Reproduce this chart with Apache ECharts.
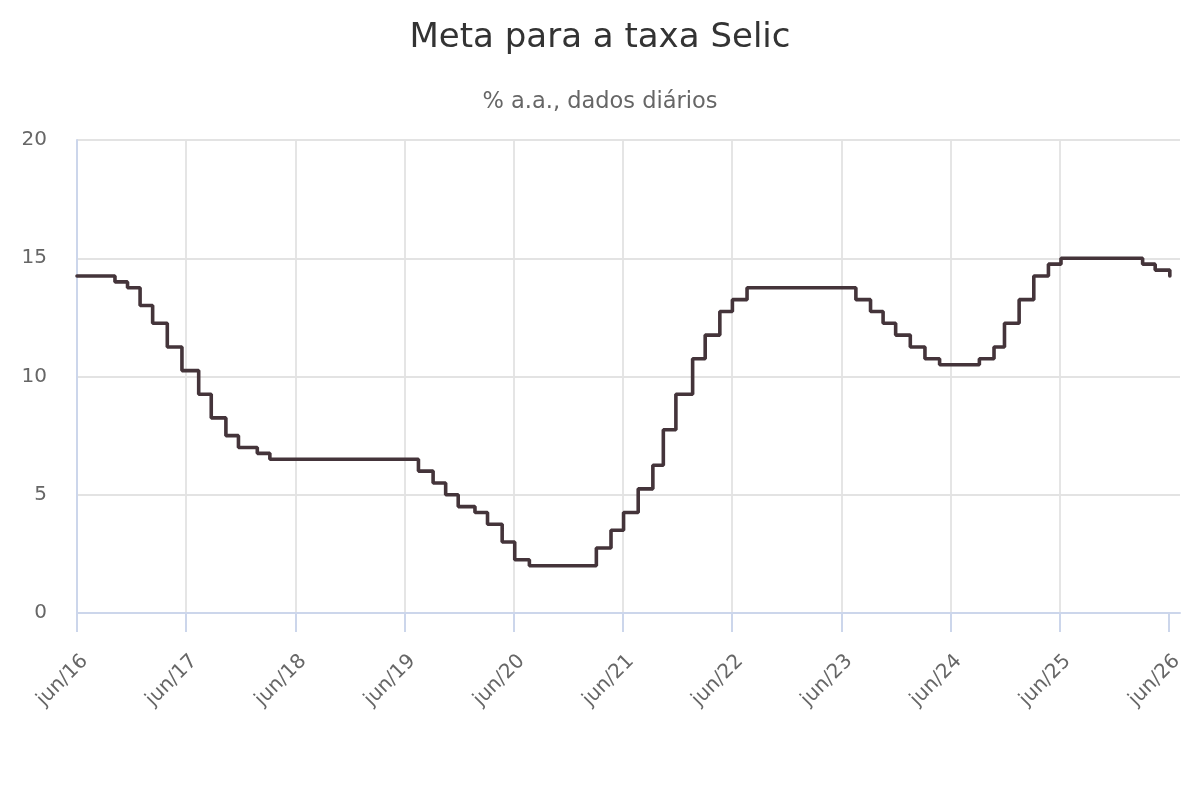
<!DOCTYPE html>
<html>
<head>
<meta charset="utf-8">
<script src="https://cdn.jsdelivr.net/npm/echarts@6/dist/echarts.min.js"></script>
<style>
html,body{margin:0;padding:0;background:#fff;}
#chart{width:1200px;height:800px;}
</style>
</head>
<body>
<div id="chart"></div>
<script>
// Dates at which the Selic target changed (effective), and the new level
const changeDates = ['2016-06-15','2016-10-20','2016-12-01','2017-01-12','2017-02-23','2017-04-13','2017-06-01','2017-07-27','2017-09-07','2017-10-26','2017-12-07','2018-02-08','2018-03-22','2019-08-01','2019-09-19','2019-10-31','2019-12-12','2020-02-06','2020-03-19','2020-05-07','2020-06-18','2020-08-06','2021-03-18','2021-05-06','2021-06-17','2021-08-05','2021-09-23','2021-10-28','2021-12-09','2022-02-03','2022-03-17','2022-05-05','2022-06-16','2022-08-04','2023-08-03','2023-09-21','2023-11-02','2023-12-14','2024-02-01','2024-03-21','2024-05-09','2024-09-19','2024-11-07','2024-12-12','2025-01-30','2025-03-20','2025-05-08','2025-06-19','2026-03-19','2026-04-30','2026-06-18','2026-06-20'];
const selicValues = [14.25,14.00,13.75,13.00,12.25,11.25,10.25,9.25,8.25,7.50,7.00,6.75,6.50,6.00,5.50,5.00,4.50,4.25,3.75,3.00,2.25,2.00,2.75,3.50,4.25,5.25,6.25,7.75,9.25,10.75,11.75,12.75,13.25,13.75,13.25,12.75,12.25,11.75,11.25,10.75,10.50,10.75,11.25,12.25,13.25,14.25,14.75,15.00,14.75,14.50,14.25,14.25];
const tickLabels = ['jun/16','jun/17','jun/18','jun/19','jun/20','jun/21','jun/22','jun/23','jun/24','jun/25','jun/26'];
const yTicks = [0,5,10,15,20];

const ORIGIN = Date.parse('2016-06-15T00:00:00Z');
const toMonths = d => (Date.parse(d + 'T00:00:00Z') - ORIGIN) / 86400000 / 30.4375;
const seriesData = changeDates.map((d, i) => [toMonths(d), selicValues[i]]);
const tickMonths = tickLabels.map((_, i) => i * 12);

const chart = echarts.init(document.getElementById('chart'), null, {renderer: 'canvas'});
chart.setOption({
  animation: false,
  backgroundColor: '#ffffff',
  title: [
    {text: 'Meta para a taxa Selic', left: 'center', top: 16,
     textStyle: {fontFamily: 'DejaVu Sans', fontSize: 34, fontWeight: 'normal', color: '#333333'}},
    {text: '% a.a., dados diários', left: 'center', top: 86,
     textStyle: {fontFamily: 'DejaVu Sans', fontSize: 22.5, fontWeight: 'normal', color: '#666666'}}
  ],
  grid: {left: 77, right: 20, top: 140, bottom: 187},
  xAxis: {
    type: 'value', min: 0, max: 121.2, interval: 12,
    axisLine: {show: true, lineStyle: {color: '#ccd6eb', width: 2}},
    axisTick: {show: true, length: 19, lineStyle: {color: '#ccd6eb', width: 2}, customValues: tickMonths},
    splitLine: {show: true, showMinLine: false, showMaxLine: false, lineStyle: {color: '#e3e3e3', width: 1.8}},
    axisLabel: {
      customValues: tickMonths,
      rotate: 45, align: 'center', padding: [0, 41, 0, 0], margin: 53,
      fontFamily: 'DejaVu Sans', fontSize: 20, color: '#666666',
      formatter: v => { const i = Math.round(v / 12); return (Math.abs(v - i * 12) < 1e-6 && tickLabels[i]) ? tickLabels[i] : ''; }
    }
  },
  yAxis: {
    type: 'value', min: yTicks[0], max: yTicks[yTicks.length - 1], interval: 5,
    axisLine: {show: true, lineStyle: {color: '#ccd6eb', width: 2}},
    axisTick: {show: false},
    splitLine: {show: true, lineStyle: {color: '#e3e3e3', width: 1.8}},
    axisLabel: {margin: 30, fontFamily: 'DejaVu Sans', fontSize: 20, color: '#666666'}
  },
  series: [{
    type: 'line', step: 'end', data: seriesData, showSymbol: false, symbol: 'none',
    lineStyle: {color: '#44343a', width: 3.6, cap: 'round'},
    z: 5
  }]
});
</script>
</body>
</html>
